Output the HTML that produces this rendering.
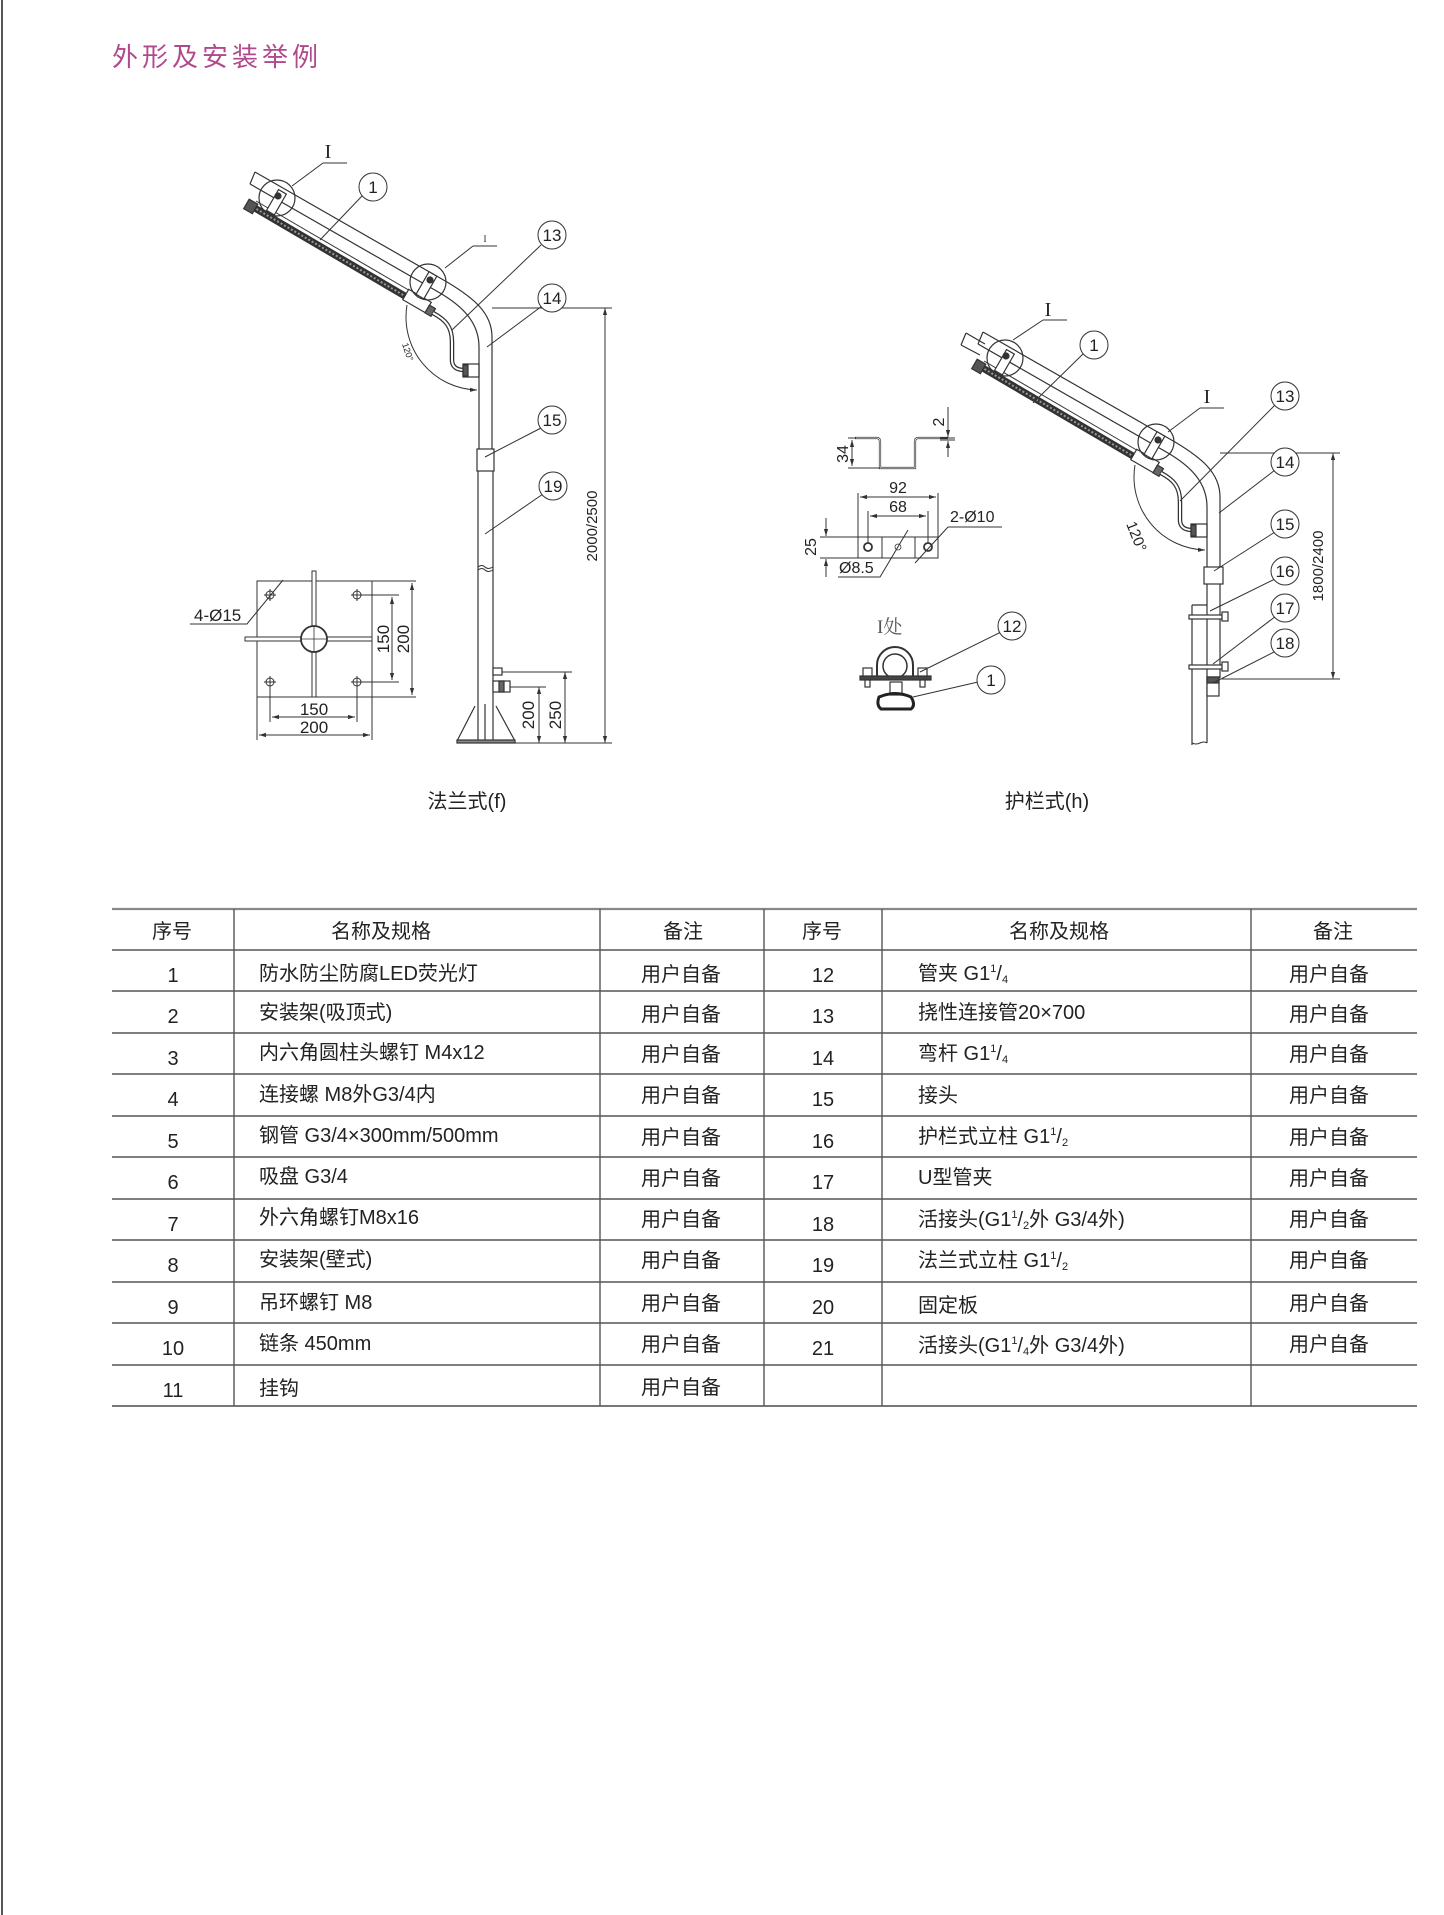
<!DOCTYPE html>
<html><head><meta charset="utf-8"><style>
html,body{margin:0;padding:0;background:#fff;}
svg{display:block;}
text{font-family:"Liberation Sans","Noto Sans CJK SC",sans-serif;fill:#222;}
</style></head><body>
<svg width="1444" height="1915" viewBox="0 0 1444 1915" xmlns="http://www.w3.org/2000/svg">
<defs>
<marker id="ar" viewBox="0 0 10 10" refX="10" refY="5" markerWidth="7" markerHeight="7" orient="auto-start-reverse" markerUnits="userSpaceOnUse"><path d="M0,2 L10,5 L0,8 z" fill="#333"/></marker>
<g id="arm" fill="none" stroke="#333" stroke-width="1.2">
 <path d="M255,172 L447,282 C472,297 492,312 492,337"/>
 <path d="M250,184 L440,293 C462,306 479,322 479,347"/>
 <path d="M255,172 L250,184"/>
 <line x1="253" y1="207" x2="410" y2="299" stroke="#333" stroke-width="7"/>
 <line x1="253" y1="207" x2="410" y2="299" stroke="#999" stroke-width="2" stroke-dasharray="2 2"/>
 <line x1="256" y1="201" x2="412" y2="292" stroke-width="1"/>
 <rect x="246" y="201" width="10" height="11" fill="#555" transform="rotate(30 251 206)"/>
 <rect x="404" y="295" width="26" height="12" fill="#fff" transform="rotate(30 417 301)"/>
 <rect x="427" y="306" width="7" height="9" fill="#666" transform="rotate(30 430 310)"/>
 <circle cx="277" cy="198" r="18"/>
 <rect x="272" y="190" width="9" height="24" fill="#fff" transform="rotate(30 276 202)"/>
 <circle cx="278" cy="196" r="3" fill="#333"/>
 <circle cx="428" cy="282" r="18"/>
 <rect x="422" y="272" width="9" height="26" fill="#fff" transform="rotate(30 426 285)"/>
 <circle cx="430" cy="280" r="3" fill="#333"/>
 <path d="M433,313 C446,320 452,327 452,342 L452,360 C452,367 457,370 464,370" stroke="#333" stroke-width="4.5"/>
 <path d="M433,313 C446,320 452,327 452,342 L452,360 C452,367 457,370 464,370" stroke="#fff" stroke-width="2"/>
 <rect x="463" y="364" width="16" height="13" fill="#fff"/>
 <rect x="463" y="365" width="5" height="11" fill="#555"/>
 <path d="M407,305 A73,73 0 0,0 477,390" stroke-width="1" marker-end="url(#ar)"/>
</g>
</defs>
<rect x="1" y="0" width="2" height="1915" fill="#555"/>
<text x="112" y="66" style="font-size:26px;letter-spacing:4px;fill:#b14a8c">外形及安装举例</text>

<!-- LEFT FIGURE -->
<use href="#arm"/>
<g fill="none" stroke="#333" stroke-width="1.2">
 <line x1="479" y1="347" x2="479" y2="449"/><line x1="492" y1="337" x2="492" y2="449"/>
 <rect x="477" y="449" width="17" height="22" fill="#fff"/>
 <line x1="478" y1="471" x2="478" y2="743"/><line x1="493" y1="471" x2="493" y2="743"/>
 <path d="M478,567 q4,-3 7,0 t8,0 M478,570 q4,-3 7,0 t8,0" stroke-width="1"/>
 <path d="M457,741 L475,706 M515,741 L496,706 M485,704 L485,743" />
 <rect x="457" y="740" width="58" height="3" fill="#888"/>
 <rect x="493" y="668" width="9" height="7" fill="#fff"/>
 <rect x="493" y="681" width="17" height="11" fill="#fff"/><rect x="499" y="681" width="5" height="11" fill="#666"/>
 <line x1="492" y1="308" x2="612" y2="308" stroke-width="1"/>
 <line x1="515" y1="743" x2="612" y2="743" stroke-width="1"/>
 <line x1="605" y1="308" x2="605" y2="743" stroke-width="1" marker-start="url(#ar)" marker-end="url(#ar)"/>
 <line x1="502" y1="672" x2="572" y2="672" stroke-width="1"/>
 <line x1="510" y1="687" x2="546" y2="687" stroke-width="1"/>
 <line x1="565" y1="672" x2="565" y2="743" stroke-width="1" marker-start="url(#ar)" marker-end="url(#ar)"/>
 <line x1="539" y1="687" x2="539" y2="743" stroke-width="1" marker-start="url(#ar)" marker-end="url(#ar)"/>
 <path d="M323,163 L347,163 M323,163 L292,186" stroke-width="1"/>
 <path d="M473,246 L497,246 M473,246 L445,268" stroke-width="1"/>
 <line x1="362" y1="196" x2="320" y2="240" stroke-width="1"/>
 <line x1="541" y1="245" x2="452" y2="330" stroke-width="1"/>
 <line x1="542" y1="306" x2="487" y2="347" stroke-width="1"/>
 <line x1="541" y1="428" x2="485" y2="457" stroke-width="1"/>
 <line x1="543" y1="494" x2="485" y2="534" stroke-width="1"/>
 <circle cx="373" cy="187" r="14" fill="#fff" stroke-width="1"/>
 <circle cx="552" cy="235" r="14" fill="#fff" stroke-width="1"/>
 <circle cx="552" cy="298" r="14" fill="#fff" stroke-width="1"/>
 <circle cx="552" cy="420" r="14" fill="#fff" stroke-width="1"/>
 <circle cx="553" cy="486" r="14" fill="#fff" stroke-width="1"/>
 <rect x="257" y="581" width="115" height="116" stroke-width="1"/>
 <rect x="312" y="571" width="4" height="126" fill="#fff" stroke-width="1"/>
 <rect x="245" y="637" width="127" height="4" fill="#fff" stroke-width="1"/>
 <circle cx="314" cy="639" r="13" fill="#fff" stroke-width="1.8"/>
 <path d="M314,626 V652 M301,639 H327" stroke-width="0.8"/>
 <g stroke-width="1"><circle cx="270" cy="595" r="4"/><circle cx="357" cy="595" r="4"/><circle cx="270" cy="682" r="4"/><circle cx="357" cy="682" r="4"/>
 <path d="M264,595h12M270,589v12M351,595h12M357,589v12M264,682h12M270,676v12M351,682h12M357,676v12"/></g>
 <path d="M361,595 H399 M361,682 H399 M372,581 H416 M372,697 H416" stroke-width="1"/>
 <line x1="392" y1="597" x2="392" y2="680" stroke-width="1" marker-start="url(#ar)" marker-end="url(#ar)"/>
 <line x1="412" y1="583" x2="412" y2="695" stroke-width="1" marker-start="url(#ar)" marker-end="url(#ar)"/>
 <path d="M270,686 V722 M357,686 V722 M257,697 V740 M372,697 V740" stroke-width="1"/>
 <line x1="272" y1="717" x2="355" y2="717" stroke-width="1" marker-start="url(#ar)" marker-end="url(#ar)"/>
 <line x1="259" y1="735" x2="370" y2="735" stroke-width="1" marker-start="url(#ar)" marker-end="url(#ar)"/>
 <path d="M190,624 H247 L283,580" stroke-width="1"/>
</g>
<g style="font-size:17px">
 <text x="373" y="193" text-anchor="middle">1</text>
 <text x="552" y="241" text-anchor="middle">13</text>
 <text x="552" y="304" text-anchor="middle">14</text>
 <text x="552" y="426" text-anchor="middle">15</text>
 <text x="553" y="492" text-anchor="middle">19</text>
</g>
<text x="328" y="158" style="font-family:'Liberation Serif',serif;font-size:20px" text-anchor="middle">I</text>
<text x="485" y="242" style="font-family:'Liberation Serif',serif;font-size:9px" text-anchor="middle">I</text>
<text transform="translate(402,344) rotate(72)" style="font-size:9px">120°</text>
<text transform="translate(597,526) rotate(-90)" text-anchor="middle" style="font-size:15px">2000/2500</text>
<text transform="translate(534,715) rotate(-90)" text-anchor="middle" style="font-size:17px">200</text>
<text transform="translate(561,715) rotate(-90)" text-anchor="middle" style="font-size:17px">250</text>
<text transform="translate(389,639) rotate(-90)" text-anchor="middle" style="font-size:17px">150</text>
<text transform="translate(409,639) rotate(-90)" text-anchor="middle" style="font-size:17px">200</text>
<text x="314" y="715" text-anchor="middle" style="font-size:17px">150</text>
<text x="314" y="733" text-anchor="middle" style="font-size:17px">200</text>
<text x="194" y="621" style="font-size:17px">4-Ø15</text>
<text x="467" y="808" text-anchor="middle" style="font-size:20px">法兰式(f)</text>

<!-- RIGHT FIGURE -->
<use href="#arm" transform="translate(728,160)"/>
<g fill="none" stroke="#333" stroke-width="1.2">
 <path d="M966,333 L985,344 M961,345 L980,355 M966,333 L961,345" stroke-width="1.2"/>
 <line x1="1207" y1="507" x2="1207" y2="567"/><line x1="1220" y1="497" x2="1220" y2="567"/>
 <rect x="1204" y="567" width="19" height="17" fill="#fff"/>
 <line x1="1207" y1="584" x2="1207" y2="743"/><line x1="1220" y1="584" x2="1220" y2="678"/>
 <path d="M1192,605 H1207 M1192,605 V745"/>
 <path d="M1192,743 q4,2 8,0 t7,0" stroke-width="1"/>
 <rect x="1189" y="615" width="33" height="4" fill="#fff"/><rect x="1222" y="612" width="6" height="9" fill="#fff"/>
 <rect x="1189" y="665" width="33" height="4" fill="#fff"/><rect x="1222" y="662" width="6" height="9" fill="#fff"/>
 <rect x="1207" y="677" width="12" height="19" fill="#fff"/><rect x="1207" y="677" width="12" height="6" fill="#555"/>
 <line x1="1220" y1="453" x2="1340" y2="453" stroke-width="1"/>
 <line x1="1222" y1="679" x2="1340" y2="679" stroke-width="1"/>
 <line x1="1333" y1="453" x2="1333" y2="679" stroke-width="1" marker-start="url(#ar)" marker-end="url(#ar)"/>
 <path d="M1043,320 L1067,320 M1043,320 L1013,340" stroke-width="1"/>
 <path d="M1200,408 L1224,408 M1200,408 L1168,432" stroke-width="1"/>
 <line x1="1084" y1="353" x2="1033" y2="403" stroke-width="1"/>
 <line x1="1275" y1="405" x2="1180" y2="501" stroke-width="1"/>
 <line x1="1275" y1="470" x2="1219" y2="513" stroke-width="1"/>
 <line x1="1275" y1="532" x2="1214" y2="571" stroke-width="1"/>
 <line x1="1275" y1="579" x2="1210" y2="611" stroke-width="1"/>
 <line x1="1276" y1="616" x2="1213" y2="664" stroke-width="1"/>
 <line x1="1276" y1="651" x2="1213" y2="683" stroke-width="1"/>
 <circle cx="1094" cy="345" r="14" fill="#fff" stroke-width="1"/>
 <circle cx="1285" cy="396" r="14" fill="#fff" stroke-width="1"/>
 <circle cx="1285" cy="462" r="14" fill="#fff" stroke-width="1"/>
 <circle cx="1285" cy="524" r="14" fill="#fff" stroke-width="1"/>
 <circle cx="1285" cy="571" r="14" fill="#fff" stroke-width="1"/>
 <circle cx="1285" cy="608" r="14" fill="#fff" stroke-width="1"/>
 <circle cx="1285" cy="643" r="14" fill="#fff" stroke-width="1"/>
 <path d="M855,438 H877 Q880,438 880,442 V468 H915 V442 Q915,438 918,438 H948" stroke-width="2.2"/>
 <path d="M855,438 H877 Q880,438 880,442 V468 H915 V442 Q915,438 918,438 H948" stroke="#fff" stroke-width="0.8"/>
 <path d="M848,438 H856 M848,468 H880 M940,438 H955 M940,440 H955" stroke-width="1"/>
 <line x1="852" y1="440" x2="852" y2="466" stroke-width="1" marker-start="url(#ar)" marker-end="url(#ar)"/>
 <line x1="948" y1="407" x2="948" y2="437" stroke-width="1" marker-end="url(#ar)"/>
 <line x1="948" y1="457" x2="948" y2="441" stroke-width="1" marker-end="url(#ar)"/>
 <rect x="858" y="537" width="80" height="21" stroke-width="1"/>
 <path d="M882,537 V558 M915,537 V558" stroke-width="1"/>
 <circle cx="868" cy="547" r="4" stroke-width="1.8"/><circle cx="928" cy="547" r="4" stroke-width="1.8"/><circle cx="898" cy="547" r="3" stroke-width="0.8"/>
 <path d="M858,493 V537 M938,493 V537 M868,511 V543 M928,511 V543" stroke-width="1"/>
 <line x1="860" y1="497" x2="936" y2="497" stroke-width="1" marker-start="url(#ar)" marker-end="url(#ar)"/>
 <line x1="870" y1="516" x2="926" y2="516" stroke-width="1" marker-start="url(#ar)" marker-end="url(#ar)"/>
 <path d="M820,537 H858 M820,558 H858" stroke-width="1"/>
 <line x1="826" y1="518" x2="826" y2="536" stroke-width="1" marker-end="url(#ar)"/>
 <line x1="826" y1="577" x2="826" y2="559" stroke-width="1" marker-end="url(#ar)"/>
 <path d="M948,527 H1002 M948,527 L915,563" stroke-width="1"/>
 <path d="M838,577 H880 L908,530" stroke-width="1"/>
 <path d="M877,678 V665 A18,18 0 0,1 913,665 V678" stroke-width="2"/>
 <circle cx="895" cy="666" r="12" stroke-width="1.5"/>
 <rect x="860" y="676" width="71" height="4" fill="#444"/>
 <rect x="863" y="668" width="9" height="8" fill="#fff"/><rect x="918" y="668" width="9" height="8" fill="#fff"/>
 <rect x="865" y="680" width="5" height="7" fill="#fff"/><rect x="920" y="680" width="5" height="7" fill="#fff"/>
 <rect x="890" y="682" width="12" height="13" fill="#fff"/>
 <path d="M879,697 Q895,690 911,697 Q916,705 911,709 H881 Q876,705 879,697 z" stroke="#222" stroke-width="3"/>
 <line x1="1001" y1="632" x2="920" y2="672" stroke-width="1"/>
 <line x1="978" y1="682" x2="913" y2="697" stroke-width="1"/>
 <circle cx="1012" cy="626" r="14" fill="#fff" stroke-width="1"/>
 <circle cx="991" cy="680" r="14" fill="#fff" stroke-width="1"/>
</g>
<g style="font-size:17px">
 <text x="1094" y="351" text-anchor="middle">1</text>
 <text x="1285" y="402" text-anchor="middle">13</text>
 <text x="1285" y="468" text-anchor="middle">14</text>
 <text x="1285" y="530" text-anchor="middle">15</text>
 <text x="1285" y="577" text-anchor="middle">16</text>
 <text x="1285" y="614" text-anchor="middle">17</text>
 <text x="1285" y="649" text-anchor="middle">18</text>
 <text x="1012" y="632" text-anchor="middle">12</text>
 <text x="991" y="686" text-anchor="middle">1</text>
</g>
<text x="1048" y="316" style="font-family:'Liberation Serif',serif;font-size:20px" text-anchor="middle">I</text>
<text x="1207" y="403" style="font-family:'Liberation Serif',serif;font-size:20px" text-anchor="middle">I</text>
<text transform="translate(1126,524) rotate(68)" style="font-size:15px">120°</text>
<text transform="translate(1323,566) rotate(-90)" text-anchor="middle" style="font-size:15px">1800/2400</text>
<text transform="translate(848,454) rotate(-90)" text-anchor="middle" style="font-size:16px">34</text>
<text transform="translate(944,422) rotate(-90)" text-anchor="middle" style="font-size:16px">2</text>
<text transform="translate(816,547) rotate(-90)" text-anchor="middle" style="font-size:16px">25</text>
<text x="898" y="493" text-anchor="middle" style="font-size:16px">92</text>
<text x="898" y="512" text-anchor="middle" style="font-size:16px">68</text>
<text x="950" y="522" style="font-size:16px">2-Ø10</text>
<text x="839" y="573" style="font-size:16px">Ø8.5</text>
<text x="877" y="633" style="font-family:'Liberation Serif','Noto Serif CJK SC',serif;font-size:19px;fill:#555">I处</text>
<text x="1047" y="808" text-anchor="middle" style="font-size:20px">护栏式(h)</text>

<!-- TABLE -->
<g stroke="#555" stroke-width="1.4">
 <line x1="112" y1="909" x2="1417" y2="909" stroke="#888" stroke-width="2.2"/>
 <line x1="112" y1="950" x2="1417" y2="950"/><line x1="112" y1="991" x2="1417" y2="991"/>
 <line x1="112" y1="1033" x2="1417" y2="1033"/><line x1="112" y1="1074" x2="1417" y2="1074"/>
 <line x1="112" y1="1116" x2="1417" y2="1116"/><line x1="112" y1="1157" x2="1417" y2="1157"/>
 <line x1="112" y1="1199" x2="1417" y2="1199"/><line x1="112" y1="1240" x2="1417" y2="1240"/>
 <line x1="112" y1="1282" x2="1417" y2="1282"/><line x1="112" y1="1323" x2="1417" y2="1323"/>
 <line x1="112" y1="1365" x2="1417" y2="1365"/><line x1="112" y1="1406" x2="1417" y2="1406" stroke="#777" stroke-width="2"/>
 <line x1="234" y1="909" x2="234" y2="1406"/><line x1="600" y1="909" x2="600" y2="1406"/>
 <line x1="764" y1="909" x2="764" y2="1406"/><line x1="882" y1="909" x2="882" y2="1406"/>
 <line x1="1251" y1="909" x2="1251" y2="1406"/>
</g>
<g style="font-size:20px">
 <text x="172" y="938" text-anchor="middle">序号</text>
 <text x="381" y="938" text-anchor="middle">名称及规格</text>
 <text x="683" y="938" text-anchor="middle">备注</text>
 <text x="822" y="938" text-anchor="middle">序号</text>
 <text x="1059" y="938" text-anchor="middle">名称及规格</text>
 <text x="1333" y="938" text-anchor="middle">备注</text>
</g>
<g style="font-size:20px">
 <g text-anchor="middle">
  <text x="173" y="982">1</text><text x="173" y="1023">2</text><text x="173" y="1065">3</text><text x="173" y="1106">4</text>
  <text x="173" y="1148">5</text><text x="173" y="1189">6</text><text x="173" y="1231">7</text><text x="173" y="1272">8</text>
  <text x="173" y="1314">9</text><text x="173" y="1355">10</text><text x="173" y="1397">11</text>
  <text x="823" y="982">12</text><text x="823" y="1023">13</text><text x="823" y="1065">14</text><text x="823" y="1106">15</text>
  <text x="823" y="1148">16</text><text x="823" y="1189">17</text><text x="823" y="1231">18</text><text x="823" y="1272">19</text>
  <text x="823" y="1314">20</text><text x="823" y="1355">21</text>
 </g>
 <text x="259" y="980">防水防尘防腐LED荧光灯</text>
 <text x="259" y="1019">安装架(吸顶式)</text>
 <text x="259" y="1059">内六角圆柱头螺钉 M4x12</text>
 <text x="259" y="1101">连接螺 M8外G3/4内</text>
 <text x="259" y="1142">钢管 G3/4×300mm/500mm</text>
 <text x="259" y="1183">吸盘 G3/4</text>
 <text x="259" y="1224">外六角螺钉M8x16</text>
 <text x="259" y="1266">安装架(壁式)</text>
 <text x="259" y="1309">吊环螺钉 M8</text>
 <text x="259" y="1350">链条 450mm</text>
 <text x="259" y="1395">挂钩</text>
 <text x="918" y="980">管夹 G1<tspan font-size="11" dy="-8">1</tspan><tspan dy="8">/</tspan><tspan font-size="11" dy="3">4</tspan></text>
 <text x="918" y="1019">挠性连接管20×700</text>
 <text x="918" y="1060">弯杆 G1<tspan font-size="11" dy="-8">1</tspan><tspan dy="8">/</tspan><tspan font-size="11" dy="3">4</tspan></text>
 <text x="918" y="1102">接头</text>
 <text x="918" y="1143">护栏式立柱 G1<tspan font-size="11" dy="-8">1</tspan><tspan dy="8">/</tspan><tspan font-size="11" dy="3">2</tspan></text>
 <text x="918" y="1184">U型管夹</text>
 <text x="918" y="1226">活接头(G1<tspan font-size="11" dy="-8">1</tspan><tspan dy="8">/</tspan><tspan font-size="11" dy="3">2</tspan><tspan dy="-3">外 G3/4外)</tspan></text>
 <text x="918" y="1267">法兰式立柱 G1<tspan font-size="11" dy="-8">1</tspan><tspan dy="8">/</tspan><tspan font-size="11" dy="3">2</tspan></text>
 <text x="918" y="1312">固定板</text>
 <text x="918" y="1352">活接头(G1<tspan font-size="11" dy="-8">1</tspan><tspan dy="8">/</tspan><tspan font-size="11" dy="3">4</tspan><tspan dy="-3">外 G3/4外)</tspan></text>
 <g>
  <text x="641" y="981">用户自备</text><text x="641" y="1021">用户自备</text><text x="641" y="1061">用户自备</text>
  <text x="641" y="1102">用户自备</text><text x="641" y="1144">用户自备</text><text x="641" y="1185">用户自备</text>
  <text x="641" y="1226">用户自备</text><text x="641" y="1267">用户自备</text><text x="641" y="1310">用户自备</text>
  <text x="641" y="1351">用户自备</text><text x="641" y="1394">用户自备</text>
  <text x="1289" y="981">用户自备</text><text x="1289" y="1021">用户自备</text><text x="1289" y="1061">用户自备</text>
  <text x="1289" y="1102">用户自备</text><text x="1289" y="1144">用户自备</text><text x="1289" y="1185">用户自备</text>
  <text x="1289" y="1226">用户自备</text><text x="1289" y="1267">用户自备</text><text x="1289" y="1310">用户自备</text>
  <text x="1289" y="1351">用户自备</text>
 </g>
</g>
</svg>
</body></html>
